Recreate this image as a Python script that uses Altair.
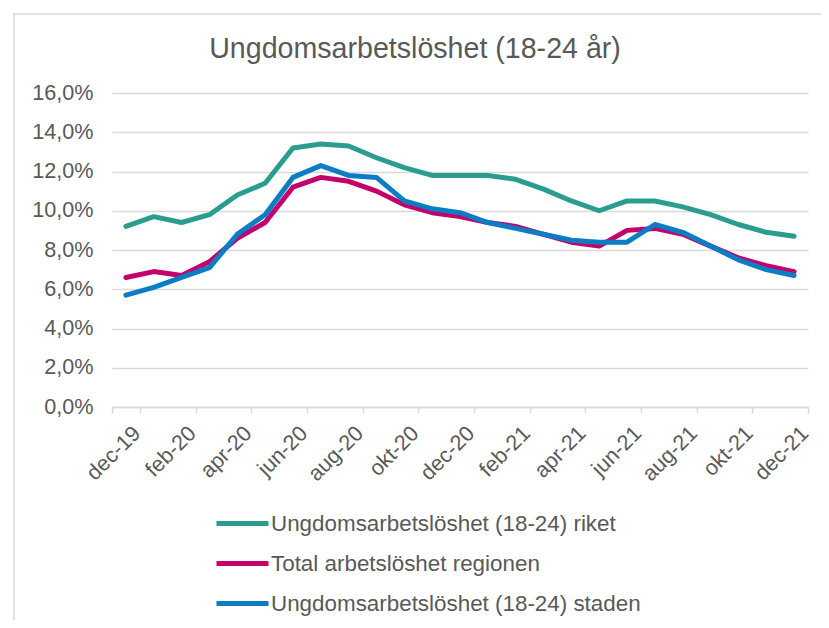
import altair as alt
import pandas as pd

months = ["dec-19", "jan-20", "feb-20", "mar-20", "apr-20", "maj-20", "jun-20", "jul-20",
          "aug-20", "sep-20", "okt-20", "nov-20", "dec-20", "jan-21", "feb-21", "mar-21",
          "apr-21", "maj-21", "jun-21", "jul-21", "aug-21", "sep-21", "okt-21", "nov-21", "dec-21"]
riket = [9.2, 9.7, 9.4, 9.8, 10.8, 11.4, 13.2, 13.4, 13.3, 12.7, 12.2, 11.8, 11.8,
         11.8, 11.6, 11.1, 10.5, 10.0, 10.5, 10.5, 10.2, 9.8, 9.3, 8.9, 8.7]
region = [6.6, 6.9, 6.7, 7.4, 8.6, 9.4, 11.2, 11.7, 11.5, 11.0, 10.3, 9.9, 9.7,
          9.4, 9.2, 8.8, 8.4, 8.2, 9.0, 9.1, 8.8, 8.2, 7.6, 7.2, 6.9]
staden = [5.7, 6.1, 6.6, 7.1, 8.8, 9.8, 11.7, 12.3, 11.8, 11.7, 10.5, 10.1, 9.9,
          9.4, 9.1, 8.8, 8.5, 8.4, 8.4, 9.3, 8.9, 8.2, 7.5, 7.0, 6.7]
series_names = ["Ungdomsarbetslöshet (18-24) riket",
                "Total arbetslöshet regionen",
                "Ungdomsarbetslöshet (18-24) staden"]
colors = ["#2A9D8F", "#C3006B", "#0A7DC4"]
tick_months = months[::2]
y_ticks = [0, 2, 4, 6, 8, 10, 12, 14, 16]

rows = []
for name, vals in zip(series_names, [riket, region, staden]):
    for i, (m, v) in enumerate(zip(months, vals)):
        rows.append({"month": m, "idx": i, "serie": name, "value": v})
df = pd.DataFrame(rows)

FONT = "Liberation Sans"
GREY = "#595959"

lines = alt.Chart(df).mark_line(strokeWidth=5, strokeJoin="round", strokeCap="round").encode(
    x=alt.X("month:N", sort=months, bandPosition=0.5,
            scale=alt.Scale(type="band", paddingInner=0, paddingOuter=0),
            axis=alt.Axis(values=tick_months, labelAngle=-45, labelAlign="right",
                          labelBaseline="middle", tickBand="extent",
                          grid=False, labelPadding=17, labelOffset=11, tickSize=6,
                          labelOverlap=False, labelFlush=False),
            title=None),
    y=alt.Y("value:Q", scale=alt.Scale(domain=[0, 16]),
            axis=alt.Axis(values=y_ticks, domain=False, ticks=False, labelPadding=19,
                          labelExpr="replace(format(datum.value, '.1f'), '.', ',') + '%'"),
            title=None),
    color=alt.Color("serie:N", scale=alt.Scale(domain=series_names, range=colors),
                    legend=alt.Legend(title=None, orient="none", legendX=102, legendY=402,
                                      direction="vertical", symbolType="stroke",
                                      symbolSize=2704, symbolStrokeWidth=5,
                                      labelFontSize=22.4, labelFont=FONT, labelColor=GREY,
                                      labelOffset=0, rowPadding=0, labelLimit=600)),
    order="idx:Q",
)

frame = alt.Chart(pd.DataFrame({"f": [0]})).mark_rect(
    fill="transparent", stroke="#d9d9d9", strokeWidth=1.5
).encode(x=alt.value(-98), x2=alt.value(740), y=alt.value(-79), y2=alt.value(560))

chart = alt.layer(frame, lines).properties(
    width=696, height=314,
    autosize="none",
    padding={"left": 104, "top": 85, "right": 13, "bottom": 213},
    title=alt.TitleParams("Ungdomsarbetslöshet (18-24 år)", fontSize=28.6, font=FONT,
                          color=GREY, fontWeight="normal", anchor="middle", dx=-45,
                          offset=0, baseline="alphabetic", dy=73),
).configure_axis(
    labelFont=FONT, labelFontSize=21.6, labelColor=GREY,
    gridColor="#d9d9d9", gridWidth=1.5,
    domainColor="#d9d9d9", domainWidth=1.5, tickColor="#d9d9d9", tickWidth=1.5,
).configure_view(strokeWidth=0)

chart.save("out.html", embed_options={"renderer": "svg", "actions": False})
